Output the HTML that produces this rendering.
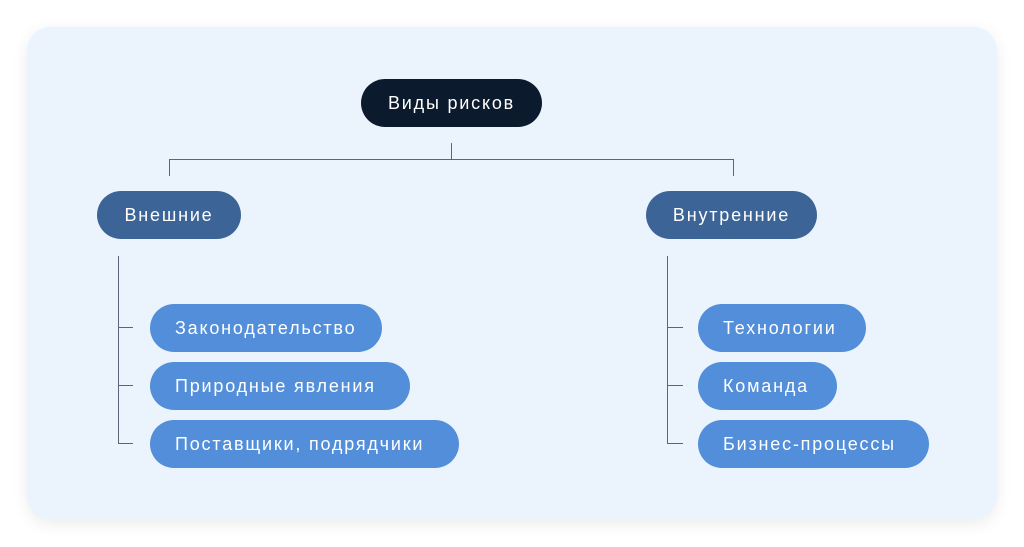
<!DOCTYPE html>
<html><head><meta charset="utf-8"><style>
html,body{margin:0;padding:0;background:#fff;width:1024px;height:547px;overflow:hidden}
.card{position:absolute;left:27px;top:27px;width:970px;height:493px;background:#ebf4fd;border-radius:24px;box-shadow:0 4px 16px rgba(0,0,0,0.08)}
.p{position:absolute;height:48px;border-radius:24px;color:#fff;font-family:"Liberation Sans",sans-serif;font-size:18px;letter-spacing:1.8px;line-height:48px;box-sizing:border-box;white-space:nowrap}
.dark{background:#0b1a2c;text-align:center}
.mid{background:#3c6496;text-align:center}
.lt{background:#528ed9;padding-left:25px}
.l{position:absolute;background:#5a6678}
</style></head><body>
<div class="card"></div>
<div class="p dark" style="left:361px;top:79px;width:181px">Виды рисков</div>
<div class="l" style="left:451px;top:143px;width:1px;height:16px"></div>
<div class="l" style="left:169px;top:159px;width:565px;height:1px"></div>
<div class="l" style="left:169px;top:159px;width:1px;height:17px"></div>
<div class="l" style="left:733px;top:159px;width:1px;height:17px"></div>
<div class="p mid" style="left:97px;top:191px;width:144px">Внешние</div>
<div class="p mid" style="left:646px;top:191px;width:171px">Внутренние</div>
<div class="l" style="left:118px;top:256px;width:1px;height:188px"></div>
<div class="l" style="left:118px;top:327px;width:15px;height:1px"></div>
<div class="l" style="left:118px;top:385px;width:15px;height:1px"></div>
<div class="l" style="left:118px;top:443px;width:15px;height:1px"></div>
<div class="p lt" style="left:150px;top:304px;width:232px">Законодательство</div>
<div class="p lt" style="left:150px;top:362px;width:260px">Природные явления</div>
<div class="p lt" style="left:150px;top:420px;width:309px">Поставщики, подрядчики</div>
<div class="l" style="left:667px;top:256px;width:1px;height:188px"></div>
<div class="l" style="left:667px;top:327px;width:16px;height:1px"></div>
<div class="l" style="left:667px;top:385px;width:16px;height:1px"></div>
<div class="l" style="left:667px;top:443px;width:16px;height:1px"></div>
<div class="p lt" style="left:698px;top:304px;width:168px">Технологии</div>
<div class="p lt" style="left:698px;top:362px;width:139px">Команда</div>
<div class="p lt" style="left:698px;top:420px;width:231px">Бизнес-процессы</div>
</body></html>
